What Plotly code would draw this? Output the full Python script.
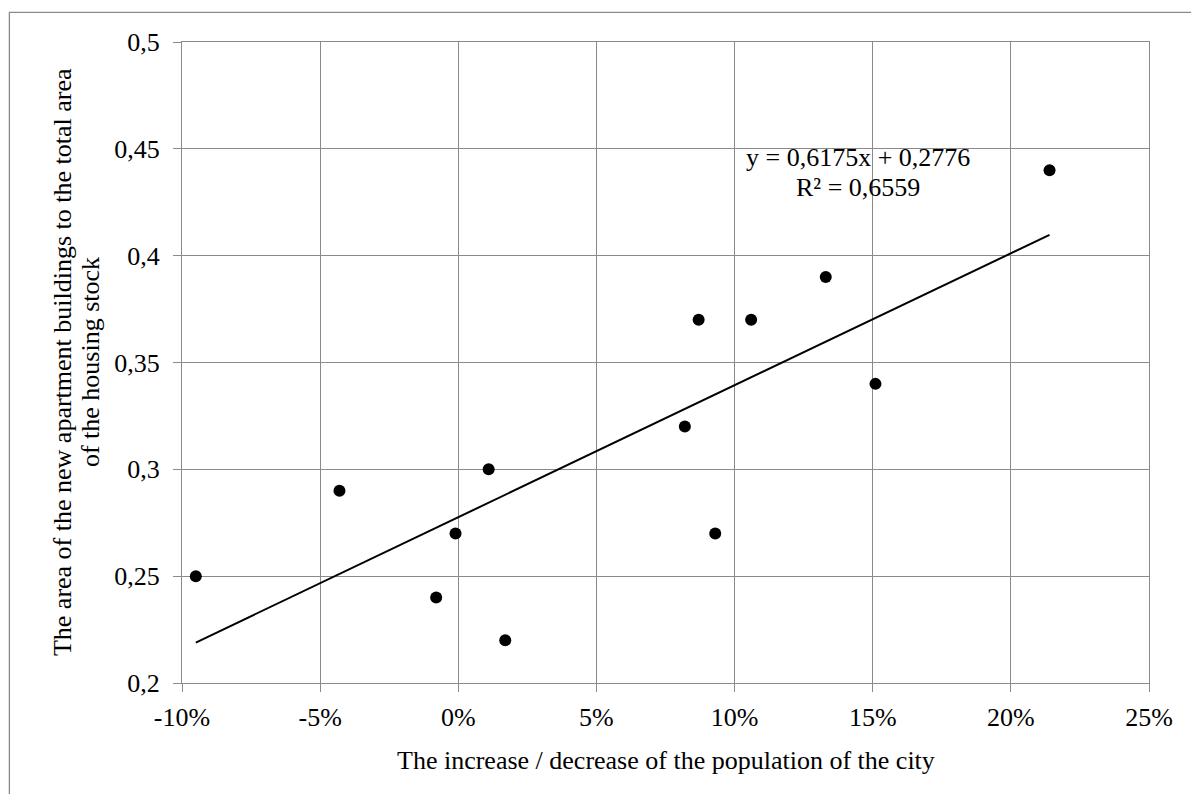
import plotly.graph_objects as go

# Population change (fraction) and share of new apartment buildings in housing stock
growth = [-0.095, -0.043, -0.008, -0.001, 0.011, 0.017, 0.082, 0.087, 0.093, 0.106, 0.133, 0.151, 0.214]
share = [0.25, 0.29, 0.24, 0.27, 0.30, 0.22, 0.32, 0.37, 0.27, 0.37, 0.39, 0.34, 0.44]

# Linear trend as reported on the chart
slope = 0.6175
intercept = 0.2776
r_squared = 0.6559

x_ticks = [-0.10, -0.05, 0.0, 0.05, 0.10, 0.15, 0.20, 0.25]
x_tick_text = ["-10%", "-5%", "0%", "5%", "10%", "15%", "20%", "25%"]
y_ticks = [0.2, 0.25, 0.3, 0.35, 0.4, 0.45, 0.5]
y_tick_text = ["0,2", "0,25", "0,3", "0,35", "0,4", "0,45", "0,5"]

x_title = "The increase / decrease of the population of the city"
y_title_lines = ["The area of the new apartment buildings to the total area",
                 "of the housing stock"]

FONT = "Liberation Serif, Times New Roman, serif"
GRID = "#8a8a8a"

trend_x = [min(growth), max(growth)]
trend_y = [slope * v + intercept for v in trend_x]

fig = go.Figure()
fig.add_trace(go.Scatter(x=trend_x, y=trend_y, mode="lines",
                         line=dict(color="black", width=2), hoverinfo="skip"))
fig.add_trace(go.Scatter(x=growth, y=share, mode="markers",
                         marker=dict(color="black", size=12, line=dict(width=0))))

fmt = lambda v: f"{v:.4f}".replace(".", ",")
fig.add_annotation(x=0.1445, y=0.4458, xref="x", yref="y", showarrow=False,
                   text=f"y = {fmt(slope)}x + {fmt(intercept)}",
                   font=dict(family=FONT, size=26, color="black"))
fig.add_annotation(x=0.1445, y=0.4318, xref="x", yref="y", showarrow=False,
                   text=f"R² = {fmt(r_squared)}",
                   font=dict(family=FONT, size=26, color="black"))

# Axis titles
fig.add_annotation(x=0.5, y=-0.121, xref="paper", yref="paper", showarrow=False,
                   text=x_title, font=dict(family=FONT, size=26, color="black"),
                   xanchor="center", yanchor="middle")
for xp, line in zip([-0.1235, -0.0945], y_title_lines):
    fig.add_annotation(x=xp, y=0.5, xref="paper", yref="paper", showarrow=False,
                       text=line, textangle=-90,
                       font=dict(family=FONT, size=26, color="black"),
                       xanchor="center", yanchor="middle")

# Outer chart frame
fig.add_shape(type="rect", xref="paper", yref="paper",
              x0=-0.1785, y0=-0.19, x1=1.06, y1=1.0463,
              line=dict(color="#8a8a8a", width=1.3), layer="below")

axis_common = dict(showgrid=True, gridcolor=GRID, gridwidth=1.3,
                   showline=True, linecolor=GRID, linewidth=1.3, mirror=True,
                   ticks="outside", ticklen=8, tickcolor=GRID, tickwidth=1.3,
                   zeroline=False, tickmode="array",
                   tickfont=dict(family=FONT, size=26, color="black"))

fig.update_xaxes(range=[-0.10, 0.25], tickvals=x_ticks, ticktext=x_tick_text,
                 ticklabelstandoff=3, **axis_common)
fig.update_yaxes(range=[0.2, 0.5], tickvals=y_ticks, ticktext=y_tick_text,
                 ticklabelstandoff=8, **axis_common)

fig.update_layout(width=1191, height=794,
                  margin=dict(l=182, r=42, t=42, b=111, autoexpand=False),
                  plot_bgcolor="white", paper_bgcolor="white",
                  showlegend=False,
                  font=dict(family=FONT, size=26, color="black"))

fig.write_html("out.html")
